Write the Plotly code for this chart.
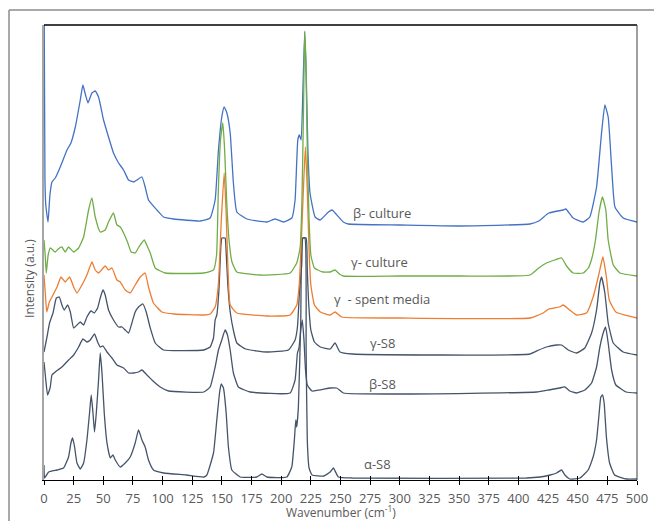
import plotly.graph_objects as go

# ---- data (wavenumber in cm-1, intensity in a.u. incl. vertical offset) ----
beta_culture_x = [0.2, 0.8, 1.5, 3.4, 5.0, 6.7, 9.5, 13.7, 19.4, 22.7, 26.4, 30.6, 32.8, 35, 37.1, 40.4, 43.2, 46, 50.2, 54.4,
                  58.6, 62.9, 67.1, 71.3, 75.5, 78.3, 82.6, 85.3, 88.1, 95.2, 100.8, 109.2, 131.7, 140.1, 144.3, 147.1,
                  149.9, 151.9, 154.2, 157, 159.7, 162.6, 171, 187.9, 194.9, 201.9, 209, 211.7, 214, 215.3, 216.8,
                  218.3, 219.8, 221.2, 222.5, 224.3, 228.6, 232.8, 239.8, 243, 245.5, 252.4, 256.6, 300, 350, 409.7,
                  417.2, 425.6, 437.7, 440, 446.2, 454.6, 460.2, 465.9, 470.1, 472.9, 475.7, 478.6, 481.4, 488.3, 500]
beta_culture_y = [455, 300, 275, 258, 285, 298, 302, 313, 330, 337, 353, 380, 395, 385, 377, 387, 389, 383, 360, 343,
                  327, 317, 310, 300, 298, 300, 303, 293, 280, 270, 263, 261, 259, 262, 280, 330,
                  363, 373, 367, 347, 297, 268, 261, 258, 261, 258, 262, 280, 340, 345, 340,
                  390, 448, 400, 330, 287, 263, 260, 268, 270, 267, 258, 256, 255, 254, 256,
                  259, 267, 270, 271, 262, 258, 263, 293, 347, 375, 363, 313, 273, 262, 258]

gamma_culture_x = [0, 1.0, 1.9, 3.5, 5.3, 9.5, 12, 15.1, 17.9, 20.7, 25, 29.2, 33.4, 37.6, 40.4, 43.2, 47.4, 51.6, 54.4,
                   58.6, 61.5, 64.3, 67.1, 70.4, 73.5, 76.9, 80, 84.5, 87, 89.6, 93.8, 102.2, 134.7, 142.9, 145.5, 147.0,
                   148.8, 150.8, 152.3, 154, 156, 158.5, 162.6, 182.2, 207.5, 213.1, 216, 217.5, 218.8, 219.8, 220.8,
                   222, 223.5, 225, 228, 235, 241.3, 245.4, 249, 252.4, 300, 350, 409.7, 417.2, 423.7, 430.7, 436.4,
                   440.6, 446.2, 454.6, 459, 462, 465, 468, 470.9, 473.7, 475.7, 480, 485.6, 500]
gamma_culture_y = [240, 225, 207, 225, 232, 228, 231, 233, 228, 233, 228, 232, 243, 270, 282, 263, 248, 250, 258,
                   267, 255, 253, 247, 238, 228, 227, 233, 240, 234, 227, 212, 207, 207, 210, 225, 290,
                   340, 357, 330, 280, 240, 218, 208, 205, 207, 217, 233, 280, 370, 449, 420,
                   330, 260, 225, 212, 208, 208, 210, 206, 204, 204, 204, 205, 212, 217, 220, 222,
                   214, 207, 207, 212, 222, 240, 268, 283, 270, 240, 215, 207, 204]

gamma_spent_x = [0, 1.2, 2.3, 4.5, 6.7, 11, 14.3, 17.9, 21.6, 25, 27.8, 32, 36.2, 40.4, 43.2, 46, 51.6, 54.4, 57.3,
                 61.5, 64.3, 68.5, 72.7, 76.9, 81.1, 85.3, 88.1, 92.3, 99.4, 110, 134.7, 140.1, 144.3, 147.1, 149.5,
                 151.9, 153.5, 155, 157, 162.6, 187.9, 207.5, 213.1, 215.3, 217, 218.7, 220.4, 222, 223.5, 225, 228,
                 233, 241.3, 245.4, 251, 300, 409.7, 420.8, 425.6, 434.7, 437.7, 443.3, 449, 457.5, 463, 467.3,
                 470.1, 471.3, 474.2, 476.6, 482.2, 500]
gamma_spent_y = [205, 185, 168, 178, 183, 193, 203, 198, 203, 193, 187, 195, 205, 218, 210, 207, 214, 210, 212,
                 200, 198, 190, 187, 195, 203, 207, 193, 177, 168, 166, 165, 166, 173, 197, 260,
                 307, 270, 215, 175, 167, 164, 165, 175, 197, 240, 290, 333, 290, 230, 195, 175,
                 168, 165, 168, 163, 162, 162, 167, 171, 173, 175, 170, 165, 167, 183, 203,
                 218, 223, 203, 180, 168, 162]

gamma_s8_x = [0, 2.5, 4.7, 7.6, 10.4, 12.9, 15.1, 17.1, 19.9, 22.2, 25, 27.8, 30.6, 33.4, 36.2, 39.6, 42.4, 45.2,
              47.4, 49.7, 51.6, 54.4, 58.6, 62.9, 65.7, 68.5, 71.3, 74.1, 76.9, 79.7, 83.4, 86.2, 89.6, 93.8, 100.8,
              134.7, 140.1, 142.9, 144.3, 145.7, 147.5, 149.2, 150, 152.7, 153.5, 155, 157, 160, 162.6, 170, 187.9,
              206.1, 211.7, 213.7, 215.5, 217.3, 218.3, 221, 222, 223, 225, 228, 233, 241.3, 245.4, 249.6, 260,
              409.7, 417.2, 423.7, 432.1, 436.4, 442, 449, 456, 461.7, 465.9, 468.7, 470.1, 472.9, 475.7, 480,
              488.3, 500]
gamma_s8_y = [128, 143, 157, 167, 182, 183, 175, 170, 175, 168, 152, 155, 158, 155, 163, 169, 167, 172,
              182, 190, 185, 170, 160, 153, 153, 150, 147, 157, 168, 173, 176, 168, 152, 137, 130,
              130, 133, 142, 160, 165, 190, 235, 242, 242, 230, 195, 168, 148, 137, 131, 128,
              130, 140, 153, 190, 215, 242, 242, 210, 180, 150, 138, 133, 131, 137, 128, 126,
              126, 130, 133, 135, 135, 130, 127, 132, 147, 170, 197, 203, 187, 157, 137,
              128, 125]

beta_s8_x = [0, 1.5, 3, 5.3, 6.7, 9.5, 15.1, 20.7, 25, 29.2, 32.8, 36.2, 39, 42.6, 45.2, 47.4, 49.7, 53.1, 57.3,
             61.5, 67.1, 71.3, 75.5, 79.7, 82.6, 86.8, 91, 98, 105, 134.7, 140.1, 144.3, 147.1, 149.9, 152.7,
             154.7, 157, 159.7, 163.9, 173.8, 207.5, 211.7, 213.7, 215, 216.5, 217.8, 219.2, 220.5, 222, 226,
             241.3, 246.8, 252.4, 300, 415.3, 425.6, 434.7, 439.2, 443.3, 449, 456, 461.7, 465.9, 468.7, 471.5,
             473.5, 475.7, 478.6, 482.2, 490.8, 500]
beta_s8_y = [118, 100, 85, 93, 105, 108, 113, 120, 125, 133, 141, 138, 140, 146, 138, 133, 134, 128, 122,
             115, 112, 107, 107, 108, 110, 105, 100, 93, 89, 88, 93, 113, 130, 140, 150,
             145, 130, 107, 93, 88, 87, 100, 127, 132, 150, 160, 140, 110, 95, 89,
             92, 92, 87, 86, 88, 90, 92, 93, 89, 87, 90, 97, 113, 133, 147,
             153, 137, 110, 95, 88, 87]

alpha_s8_x = [0, 0.5, 3.9, 11, 16.5, 20.7, 22.7, 24.1, 25.8, 27.8, 30.6, 33.4, 36.2, 38.4, 39.8, 41.3, 42.6, 44.1,
              46, 47.4, 48.9, 50.8, 53.1, 55.9, 58.1, 60.1, 64.3, 68.5, 72.7, 76.9, 79.7, 82.6, 85.3, 88.1, 92.3,
              100.8, 120, 134.7, 137.3, 142.9, 145.7, 148, 149.4, 151.3, 153.6, 155.5, 158.4, 165.4, 179.4, 183.7,
              187.9, 204.7, 208.9, 211.1, 212.3, 213.1, 214.5, 216.5, 218, 220, 221, 222, 223.5, 226, 236, 241.3,
              244, 248.2, 260, 406.9, 418.2, 426.8, 432.2, 436.4, 439.2, 443.3, 451.9, 458.8, 463, 465.9, 468.1,
              469.5, 470.9, 472.3, 474.2, 476.9, 481.1, 491.2, 500]
alpha_s8_y = [15, 2, 8, 10, 12, 23, 37, 42, 33, 17, 11, 17, 40, 67, 85, 67, 48, 67,
              100, 127, 107, 67, 37, 22, 25, 20, 13, 17, 23, 37, 50, 40, 33, 20, 10,
              7, 5, 3, 5, 27, 60, 87, 96, 92, 67, 33, 10, 3, 3, 6,
              3, 3, 13, 40, 60, 53, 73, 160, 242, 242, 130, 40, 12, 5, 4, 8,
              12, 3, 2, 2, 3, 5, 7, 10, 5, 1, 2, 10, 23, 40, 67,
              83, 85, 77, 43, 17, 5, 1, 1]

x_tick_vals = list(range(0, 501, 25))

labels = ["β- culture", "γ- culture", "γ  - spent media", "γ-S8", "β-S8", "α-S8"]
label_x = [285.4, 283.3, 285.4, 285.4, 285.4, 280.8]
label_y = [267, 218, 181, 137, 96, 16]

NAVY = "#44546A"
BLUE = "#4472C4"
ORANGE = "#ED7D31"
GREEN = "#70AD47"
GREY_TXT = "#595959"
FONT = "Open Sans"

fig = go.Figure()
series = [
    (alpha_s8_x, alpha_s8_y, NAVY, "α-S8"),
    (beta_s8_x, beta_s8_y, NAVY, "β-S8"),
    (gamma_s8_x, gamma_s8_y, NAVY, "γ-S8"),
    (beta_culture_x, beta_culture_y, BLUE, "β- culture"),
    (gamma_spent_x, gamma_spent_y, ORANGE, "γ - spent media"),
    (gamma_culture_x, gamma_culture_y, GREEN, "γ- culture"),
]
for xs, ys, col, nm in series:
    fig.add_trace(go.Scatter(x=xs, y=ys, mode="lines", name=nm,
                             line=dict(color=col, width=1.3, shape="spline", smoothing=0.4),
                             showlegend=False, hoverinfo="skip"))

# dummy trace for the overlay axis carrying inside ticks
fig.add_trace(go.Scatter(x=[None], y=[None], xaxis="x2", showlegend=False, hoverinfo="skip"))

for t, lx, ly in zip(labels, label_x, label_y):
    fig.add_annotation(x=lx, y=ly, text=t, showarrow=False,
                       font=dict(family=FONT, size=13, color=GREY_TXT))

fig.add_annotation(xref="paper", yref="paper", x=-0.0236, y=0.442, xanchor="center", yanchor="middle",
                   text="Intensity (a.u.)", textangle=-90, showarrow=False,
                   font=dict(family=FONT, size=12, color=GREY_TXT))
fig.add_annotation(xref="paper", yref="paper", x=0.5, y=-0.071, xanchor="center", yanchor="middle",
                   text="Wavenumber (cm<sup>-1</sup>)", showarrow=False,
                   font=dict(family=FONT, size=12, color=GREY_TXT))

shapes = [
    # plot area top and right borders
    dict(type="line", xref="paper", yref="paper", x0=0, x1=1, y0=1, y1=1, line=dict(color="black", width=1.5)),
    dict(type="line", xref="paper", yref="paper", x0=1, x1=1, y0=0, y1=1, line=dict(color="#404040", width=1)),
    # outer frame (top and left)
    dict(type="line", xref="paper", yref="paper", x0=-0.059, x1=1.03, y0=1.033, y1=1.033,
         line=dict(color="#8c8c8c", width=1.5)),
    dict(type="line", xref="paper", yref="paper", x0=-0.059, x1=-0.059, y0=1.033, y1=-0.1,
         line=dict(color="#8c8c8c", width=1.5)),
]

fig.update_layout(
    width=654, height=521,
    margin=dict(l=44, r=17, t=25, b=41, autoexpand=False),
    paper_bgcolor="white", plot_bgcolor="white",
    shapes=shapes,
    xaxis=dict(range=[0, 500], tickmode="array", tickvals=x_tick_vals, automargin=False,
               ticks="outside", ticklen=4, tickcolor="black", tickwidth=1,
               ticklabelstandoff=2,
               showline=True, linecolor="black", linewidth=1,
               showgrid=False, zeroline=False,
               tickfont=dict(family=FONT, size=13, color=GREY_TXT)),
    xaxis2=dict(range=[0, 500], overlaying="x", anchor="y", side="bottom", matches="x",
                tickmode="array", tickvals=x_tick_vals, ticks="inside", ticklen=4,
                tickcolor="black", tickwidth=1, showticklabels=False, showline=False,
                showgrid=False, zeroline=False, automargin=False),
    yaxis=dict(range=[0, 455], showticklabels=False, ticks="", showline=True, automargin=False,
               linecolor="#A6A6A6", linewidth=2, showgrid=False, zeroline=False),
)

fig.write_html("out.html", config={"displayModeBar": False},
               post_script="document.body.style.margin='0px';document.body.style.overflow='hidden';")
